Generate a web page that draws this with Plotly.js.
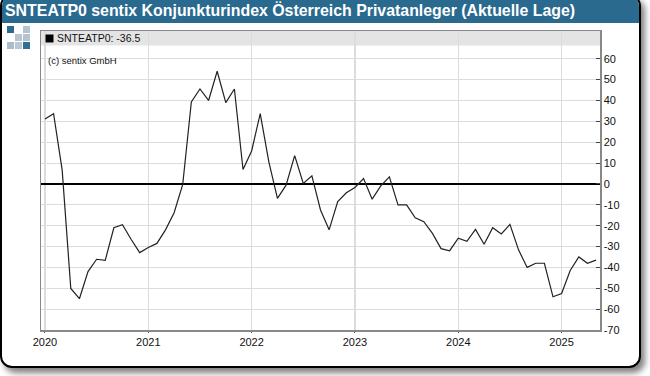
<!DOCTYPE html>
<html><head><meta charset="utf-8">
<script src="https://cdn.plot.ly/plotly-3.0.1.min.js"></script>
<style>
html,body{margin:0;padding:0;background:#fff;width:650px;height:376px;overflow:hidden}
#card{position:absolute;left:0;top:-6px;width:637px;height:370px;border:2px solid #000;border-radius:12px;background:#fff;box-shadow:4px 5px 6px #808080;box-sizing:content-box;overflow:hidden}
#band{position:absolute;left:0;top:0;width:100%;height:27px;background:#2a6a8f}
#chart{position:absolute;left:0;top:0;width:650px;height:376px}
.sq{position:absolute;width:7px;height:7px}
</style></head><body>
<div id="card"><div id="band"></div></div>
<div class="sq" style="left:7px;top:26px;background:#2a6a8f"></div>
<div class="sq" style="left:23px;top:26px;background:#b5c3cc"></div>
<div class="sq" style="left:15px;top:34px;background:#b8c6cf"></div>
<div class="sq" style="left:23px;top:34px;background:#b3c4cf"></div>
<div class="sq" style="left:7px;top:42px;background:#a9bcc8"></div>
<div class="sq" style="left:15px;top:42px;background:#b9c9d3"></div>
<div class="sq" style="left:23px;top:42px;background:#2f6f94"></div>
<div id="chart"></div>
<script>
const titleText = "SNTEATP0 sentix Konjunkturindex Österreich Privatanleger (Aktuelle Lage)";
const legendText = "SNTEATP0: -36.5";
const copyrightText = "(c) sentix GmbH";
const years = [2020,2021,2022,2023,2024,2025];
const yTicks = [60,50,40,30,20,10,0,-10,-20,-30,-40,-50,-60,-70];
const months = ["01","02","03","04","05","06","07","08","09","10","11","12"];
const values = [
 31.1,33.7,6.6,-50.1,-55,-42,-36.1,-36.6,-21,-19.5,-26.5,-32.9,
 -30.5,-28.5,-22,-13.8,-0.2,39.3,45.5,40,54,39,45.5,6.9,
 15.8,33.7,10.6,-6.9,-0.6,13.6,0.2,3.9,-12.5,-22,-8.5,-4.2,
 -1.7,2.6,-7.3,-0.9,3.4,-10,-10,-16.2,-18.1,-23.7,-31,-32,
 -26,-27.5,-21.8,-28.9,-21,-24,-19.4,-31.6,-40,-38,-38,-54.1,
 -52.5,-41.5,-35,-38,-36.5];
const dates = values.map((v,i)=> years[0]+Math.floor(i/12)+"-"+months[i%12]);
const W=650,H=376,L=40.5,R=600,T=30.5,B=330.5;
const GRID="#dcdcdc", AX="#888888";
const trace={x:dates,y:values,type:"scatter",mode:"lines",
  line:{color:"#222222",width:1.2,shape:"linear"},hoverinfo:"skip",showlegend:false};
const layout={
  width:W,height:H,paper_bgcolor:"rgba(0,0,0,0)",plot_bgcolor:"rgba(0,0,0,0)",
  margin:{l:L,r:W-R,t:T,b:H-B,pad:0},
  font:{family:"Liberation Sans, Arial, sans-serif",size:12,color:"#111"},
  title:{text:"<b>"+titleText+"</b>",font:{size:15.9,color:"#fff",family:"Liberation Sans, Arial, sans-serif"},
    x:5/W,xanchor:"left",xref:"container",y:1-10.5/H,yanchor:"middle",yref:"container",pad:{l:0,r:0,t:0,b:0}},
  xaxis:{type:"category",categoryorder:"array",categoryarray:dates,range:[-0.46,64.46],
    tickmode:"array",tickvals:years.map(y=>y+"-01"),ticktext:years.map(String),
    showgrid:true,gridcolor:GRID,gridwidth:1.2,ticks:"outside",ticklen:1.5,tickcolor:"#555",tickwidth:1,
    showline:true,linecolor:AX,linewidth:1.5,mirror:true,zeroline:false,
    tickfont:{size:11,color:"#111"},fixedrange:true},
  yaxis:{side:"right",range:[-70,73.3],tickmode:"array",tickvals:yTicks,ticktext:yTicks.map(String),
    showgrid:true,gridcolor:GRID,gridwidth:1,ticks:"inside",ticklen:4,tickcolor:"#444",tickwidth:1,
    showline:true,linecolor:AX,linewidth:1.5,mirror:true,
    zeroline:true,zerolinecolor:"#000",zerolinewidth:2,
    tickfont:{size:11,color:"#111"},fixedrange:true},
  shapes:[
    {type:"rect",layer:"below",xref:"paper",yref:"paper",x0:0,x1:1,y0:1-14.5/(B-T),y1:1,fillcolor:"#e4e4e4",line:{width:0}},
    {type:"rect",xref:"paper",yref:"paper",x0:(45-L)/(R-L),x1:(53-L)/(R-L),y0:1-(42-T)/(B-T),y1:1-(34-T)/(B-T),fillcolor:"#000",line:{width:0}}
  ],
  annotations:[
    {text:legendText,xref:"paper",yref:"paper",x:(56-L)/(R-L),y:1-(38-T)/(B-T),xanchor:"left",yanchor:"middle",showarrow:false,font:{size:10.5,color:"#111"},borderpad:0},
    {text:copyrightText,xref:"paper",yref:"paper",x:(46.5-L)/(R-L),y:1-(60.5-T)/(B-T),xanchor:"left",yanchor:"middle",showarrow:false,font:{size:9.5,color:"#111"},borderpad:0}
  ]
};
Plotly.newPlot("chart",[trace],layout,{displayModeBar:false,staticPlot:true});
</script>
</body></html>
